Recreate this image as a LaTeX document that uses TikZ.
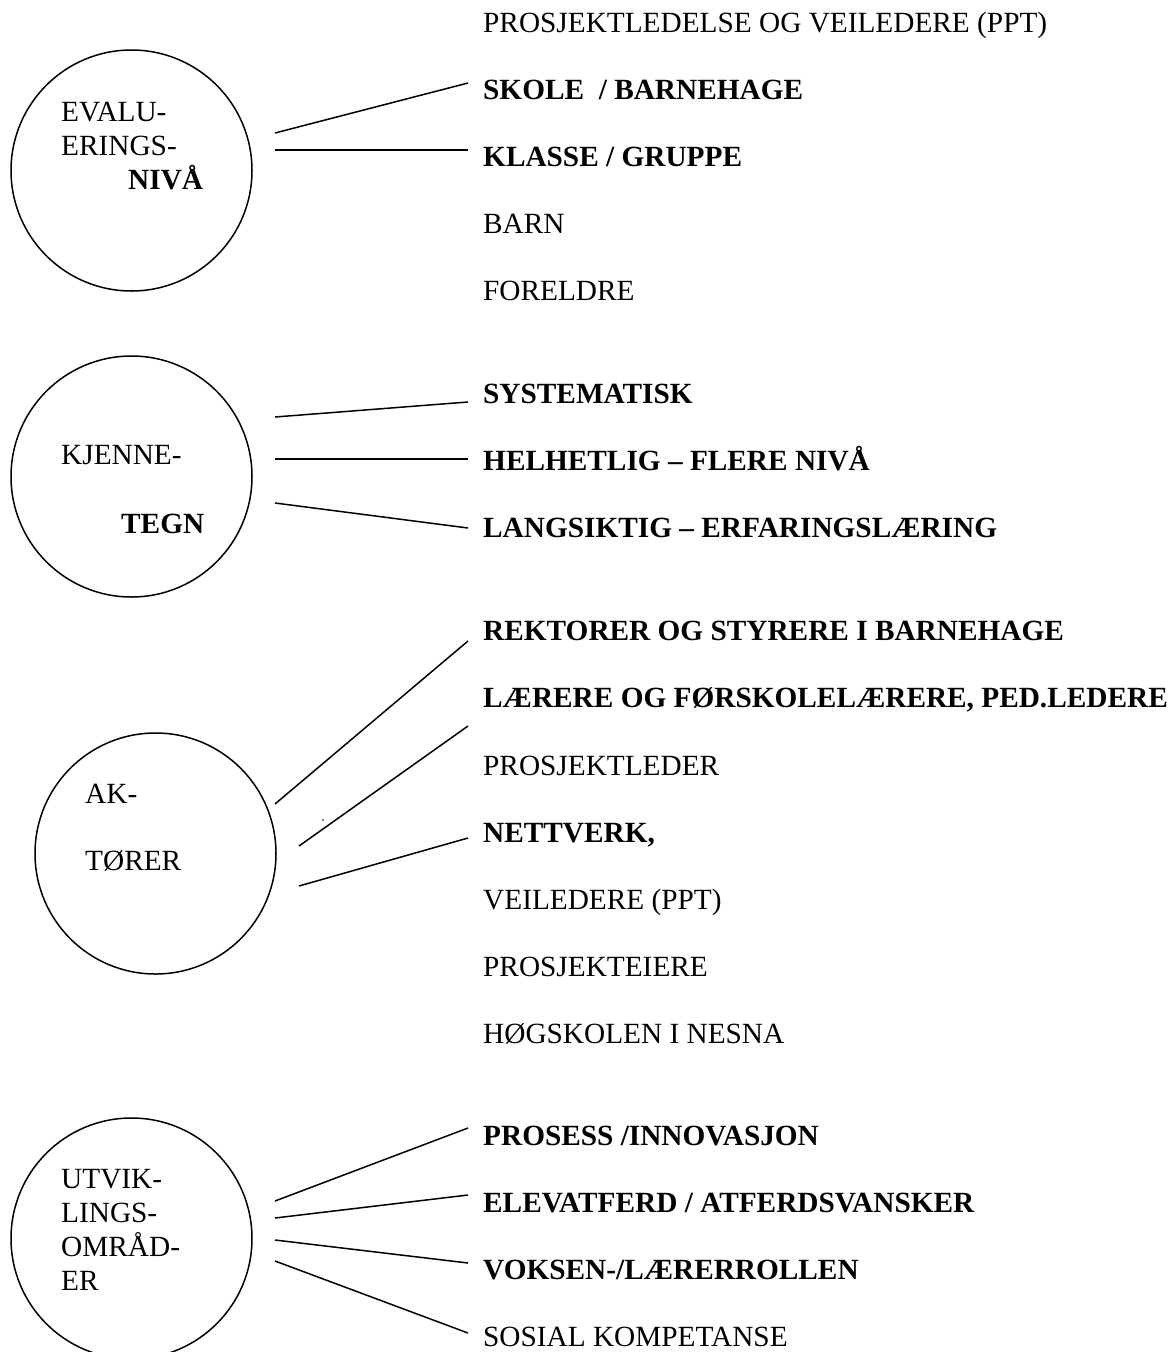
\documentclass[tikz,border=0pt]{standalone}
\usepackage{fontspec}
\setmainfont{Liberation Serif}
\begin{document}
\begin{tikzpicture}[x=1pt,y=-1pt,
  ring/.style={draw,circle,line width=1.5pt,minimum size=241pt,inner sep=0pt},
  item/.style={anchor=base west,inner sep=0pt,font=\fontsize{29.3}{33.7}\selectfont},
  bitem/.style={item,font=\fontsize{29.3}{33.7}\selectfont\bfseries},
  link/.style={line width=1.5pt}]
\useasboundingbox (0,0) rectangle (1173,1352);
% circles
\node[ring] (c1) at (131.5,170.5) {};
\node[ring] (c2) at (131.5,476.5) {};
\node[ring] (c3) at (155.5,853.5) {};
\node[ring] (c4) at (131.5,1238.5) {};
% circle texts
\node[item] (t1a) at (61,121) {EVALU-};
\node[item] (t1b) at (61,155) {ERINGS-};
\node[bitem] (t1c) at (128,189) {NIVÅ};
\node[item] (t2a) at (61,464) {KJENNE-};
\node[bitem] (t2b) at (121,533) {TEGN};
\node[item] (t3a) at (85,803) {AK-};
\node[item] (t3b) at (85,870) {TØRER};
\node[item] (t4a) at (61,1188) {UTVIK-};
\node[item] (t4b) at (61,1222) {LINGS-};
\node[item] (t4c) at (61,1256) {OMRÅD-};
\node[item] (t4d) at (61,1290) {ER};
% right column
\node[item] (r1) at (483,32) {PROSJEKTLEDELSE OG VEILEDERE (PPT)};
\node[bitem] (r2) at (483,99) {SKOLE \ / BARNEHAGE};
\node[bitem] (r3) at (483,166) {KLASSE / GRUPPE};
\node[item] (r4) at (483,233) {BARN};
\node[item] (r5) at (483,300) {FORELDRE};
\node[bitem] (s1) at (483,403) {SYSTEMATISK};
\node[bitem] (s2) at (483,470) {HELHETLIG – FLERE NIVÅ};
\node[bitem] (s3) at (483,537) {LANGSIKTIG – ERFARINGSLÆRING};
\node[bitem] (a1) at (483,640) {REKTORER OG STYRERE I BARNEHAGE};
\node[bitem] (a2) at (483,707) {LÆRERE OG FØRSKOLELÆRERE, PED.LEDERE};
\node[item] (a3) at (483,775) {PROSJEKTLEDER};
\node[bitem] (a4) at (483,842) {NETTVERK,};
\node[item] (a5) at (483,909) {VEILEDERE (PPT)};
\node[item] (a6) at (483,976) {PROSJEKTEIERE};
\node[item] (a7) at (483,1043) {HØGSKOLEN I NESNA};
\node[bitem] (u1) at (483,1145) {PROSESS /INNOVASJON};
\node[bitem] (u2) at (483,1212) {ELEVATFERD / ATFERDSVANSKER};
\node[bitem] (u3) at (483,1279) {VOKSEN-/LÆRERROLLEN};
\node[item] (u4) at (483,1346) {SOSIAL KOMPETANSE};
% connector ends
\coordinate (e1a) at (275,133); \coordinate (f1a) at (468,83);
\coordinate (e1b) at (275,150); \coordinate (f1b) at (468,150);
\coordinate (e2a) at (275,417); \coordinate (f2a) at (468,402);
\coordinate (e2b) at (275,459); \coordinate (f2b) at (468,459);
\coordinate (e2c) at (275,503); \coordinate (f2c) at (468,528);
\coordinate (e3a) at (275,804); \coordinate (f3a) at (468,641);
\coordinate (e3b) at (299,846); \coordinate (f3b) at (468,726);
\coordinate (e3c) at (299,886); \coordinate (f3c) at (468,838);
\coordinate (e4a) at (275,1201); \coordinate (f4a) at (468,1128);
\coordinate (e4b) at (275,1218); \coordinate (f4b) at (468,1195);
\coordinate (e4c) at (275,1240); \coordinate (f4c) at (468,1263);
\coordinate (e4d) at (275,1261); \coordinate (f4d) at (468,1333);
\foreach \a/\b in {e1a/f1a,e1b/f1b,e2a/f2a,e2b/f2b,e2c/f2c,e3a/f3a,e3b/f3b,e3c/f3c,e4a/f4a,e4b/f4b,e4c/f4c,e4d/f4d}
  \draw[link] (\a) -- (\b);
% stray dot
\coordinate (dot) at (323,820);
\fill (dot) circle (0.9);
\end{tikzpicture}
\end{document}
